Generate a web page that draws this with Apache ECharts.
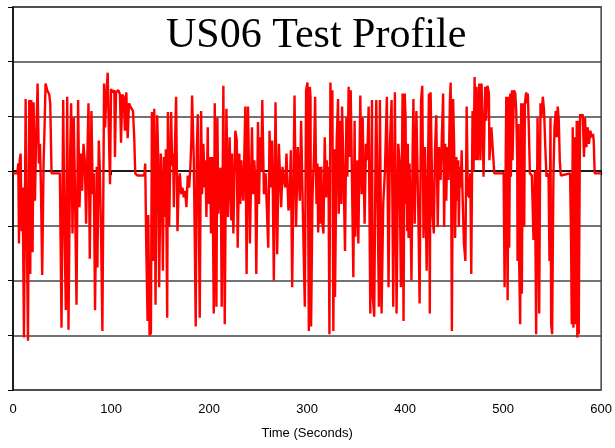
<!DOCTYPE html>
<html>
<head>
<meta charset="UTF-8">
<title>US06 Test Profile</title>
<script src="https://cdn.jsdelivr.net/npm/echarts@6/dist/echarts.min.js"></script>
</head>
<body style="margin:0">
<div id="main" style="width:615px;height:448px;"></div>
<script type="text/javascript">
// time (s) and value, split in ~100 s pieces
var t1 = [0,4.4,5.4,6.1,6.8, 7.8,8.8,9.8,11.2,12.9, 13.9,15.3,16.6,17.6,18.6, 20,21,22.4,23.4,25.1,
          26.4,27.5,28.5,29.8,31.2, 32.2,33.2,34.9,37,38, 39.3,47.8,49.5,51.2,52.5, 53.9,55.3,56.6,58.3,59.3,
          60.7,62,63.1,64.8,66.4, 67.8,69.5,70.5,71.9,73.2, 74.6,75.9,77,78.3,80, 81.4,82.4,83.7,85.4,86.1,
          87.5,88.5,89.8,91.2,92.9, 93.9,95.3];
var v1 = [-2,-2,7,-66,10, 16,-55,-15,-152,66, -40,-155,65,-94,65, -74,63,-27,20,80,
          7,25,-15,-95,8, 40,80,74,70,62, -2,-2,-143,65,-51, -127,68,-145,16,62,
          -57,49,-10,-122,65, -33,16,-18,25,10, -48,16,62,-80,55, -21,-2,-127,4,-88,
          28,4,-55,-146,80, 40,70];

var t2 = [96.6,98.3,99,100,101.7, 103.4,104,105.1,107.4,109.1, 110.2,111.5,112.9,114.2,115.6, 117,118.3,120.3,122.4,123.7,
          124.7,127.1,133.9,134.9,135.9, 137.3,138,139.3,140.7,141.7, 143,144.1,144.7,145.4,146.4, 147.1,148.1,149.1,150.8,152.2,
          152.9,153.9,154.9,155.9,157.3, 158,159.3,161.3,162.4,163.4, 164.1,165.1,166.4,167.8,169.1, 170.2,171.5,172.9,174.2,175.6,
          176.9,178.3,179.7,181,182, 182.7,184.4,185.4,186.4,187.5, 188.5,189.5,190.5,191.9,192.9, 194.2,195.6];
var v2 = [90,13,-12,75,72, 74,13,72,74,70, 26,70,68,37,72, 30,62,58,55,30,
          -2,-4,-4,7,-66, -137,-40,-150,-148,54, -82,57,-20,-122,10, 51,13,-106,16,-30,
          -91,13,-42,20,-134, 54,-51,54,5,16, -33,19,68,-55,-10, -2,-21,-15,-24,-18,
          -33,-4,-15,5,30, 69,13,-60,-142,19, 52,-30,-134,55,-21, 25,-15];

var t3 = [196.3,197.3,198.7,199.4,200.7, 201,202,203.4,204.8,205.8, 207.5,208.5,209.5,210.9,211.9, 212.9,214.6,216,217.7,219.4,
          221,222.7,223.4,224.8,226.8, 228.3,229.2,230.9,231.9,232.9, 233.9,235,237,238.3,239.7, 240.4,241.7,243.8,244.8,246.1,
          247.2,248.2,249.9,250.9,252.2, 253.3,254.3,256,257.7,260.4, 261.7,263.1,264.4,265.1,266.1, 267.8,269.5,271.2,273.6,274.9,
          276.3,277.7,279,281,282.1, 283.4,284.8,287.2,288.8,290.5, 292.6,293.9,295.6,297.7,299];
var v3 = [10,-42,40,-30,-2, 13,-57,13,-130,62, -124,49,-39,0,3, -124,78,-140,57,-42,
          31,-45,16,-57,37, 28,-70,16,-30,10, -15,-27,59,-94,59, 22,-66,40,-21,10,
          -8,-94,45,-30,31, 0,65,-21,-2,-70, 37,-15,28,-21,-100, 63,-76,25,-33,4,
          -8,-15,16,-36,-30, 19,-106,69,-51,22, -27,46,-33,-124,74];

var t4 = [300.4,301.8,302.8,303.5,304.1, 305.5,306.5,307.2,308.2,309.6, 310.6,311.3,312.6,313.3,314.6, 315.3,316.7,318,319.4,320.1,
          321.1,321.8,322.8,323.8,324.8, 325.8,326.8,327.9,328.5,330.2, 331.6,332.3,333.6,335,335.7, 337,338.7,340.1,341.1,342.4,
          343.5,344.5,345.5,347.2,348.5, 349.2,350.6,351.3,352.3,354.3, 355.7,356.7,358,358.7,360.1, 360.7,361.8,362.8,364.5,366.2,
          366.9,368.5,369.9,370.6,372.3, 373.3,374.3,376,377.7,379.4, 381.4,383.1,384.5,386.2,387.9, 389.6,391.3,393,394.3,395.7,
          397.4,398.4];
var v4 = [81,-146,77,68,-142, -24,0,19,68,-30, 7,-56,4,-48,4, -45,-57,31,-24,10,
          -21,4,-149,81,40, 74,-146,20,-115,28, 66,-39,46,-30,59, 10,-73,49,-5,77,
          13,74,13,-97,46, -60,-21,10,-66,69, -21,49,49,-48,25, 10,25,59,-130,65,
          -112,-133,22,65,65, -124,65,-130,-30,0, 68,-106,25,65,-124, 72,-130,25,10,-106,
          71,-137];

var t5 = [399.6,400.5,401,401.5,402.2, 402.8,403.5,404.5,405.2,406.5, 407.7,408.5,409.8,411.5,412.2, 413.5,414.8,416.3,417.5,418.8,
          420.3,422,424.3,425.2,426, 428.1,429.3,430.5,431.8,433.3, 434.5,436.2,437.5,438.8,439.8, 440.9,442,443,444.3,445.7,
          446.5,447.7,449,450,451, 452.3,453,454.2,454.8,455.7, 456.8,457.7,458.5,460,461.5, 462.8,464,465.5,466.5,467.5,
          468.8,469.8,470.9,472,472.9, 474.1,475.7,476.8,478,479.5, 480,481.7,482.6,484,485.5, 486,488,491];
var v5 = [71,48,-30,13,-55, 25,-61,7,-21,-100, 19,66,-48,55,22, -39,-121,65,78,-61,
          22,-91,71,-130,72, -42,-57,19,51,-51, 22,-8,-8,71,-51, 25,-27,22,-8,65,
          81,-146,66,25,-61, 13,-27,10,-51,4, -15,19,-18,-66,-82, 59,-21,-24,-2,-94,
          55,0,86,10,77, 10,80,10,80,22, -5,77,46,78,71, 10,40,-2];

var t6 = [495.4,500.5,501.5,503.2,504.6, 505.6,506.2,507.3,507.9,509, 509.6,511,512.4,513.4,514.4, 514.7,515.7,516.4,517.4,518.4,
          519.1,520.1,520.8,521.5,522.2, 523.5,524.6,525.2,526.2,527.3, 529.3,531,532.4,533.7,535.1, 535.7,536.8,538.1,539.1,540.5,
          541.8,542.9,544.2,546.3,547.3, 548.3,549,550,551.3,552.4, 553.7,554.7,555.7,556.8,557.8, 558.8,568.3,569.3,570,571,
          571.7,573,573.7,575.1,575.7, 576.4,577.1,578.5,579.8,581.2, 582.5,583.5,584.9,586.3,587.6, 589,590.3,591.7,592.4,593.4,
          600];
var v6 = [-2,-2,-106,68,-118, 68,-70,71,-5,74, 10,74,71,55,10, -82,43,-85,-140,62,
          -112,62,25,-51,62, 72,62,71,40,-2, -4,-63,0,-149,49, 10,-130,62,49,68,
          55,25,-5,-2,-82, 49,-140,-149,-5,40, 55,31,59,46,10, -4,-2,-63,-140,40,
          -143,31,-140,46,-152, 46,-149,52,49,52, 13,49,22,40,25, 37,31,34,28,-2,
          -2];

var xTicks = [0, 100, 200, 300, 400, 500, 600];
var yTicks = [-200, -150, -100, -50, 0, 50, 100, 150];

var data = [];
[[t1, v1], [t2, v2], [t3, v3], [t4, v4], [t5, v5], [t6, v6]].forEach(function (s) {
    if (s[0].length != s[1].length) console.log('length mismatch', s[0][0], s[0].length, s[1].length);
    var n = Math.min(s[0].length, s[1].length);
    for (var i = 0; i < n; i++) data.push([s[0][i], s[1][i]]);
});

var myChart = echarts.init(document.getElementById('main'));
myChart.setOption({
    animation: false,
    title: {
        text: 'US06 Test Profile',
        left: 161,
        top: 10,
        textStyle: {fontFamily: 'Liberation Serif', fontSize: 42, fontWeight: 'normal', color: '#000'}
    },
    grid: {left: 13, right: 11, top: 7, bottom: 58, show: true, borderColor: '#444', borderWidth: 1.5},
    xAxis: {
        type: 'value',
        min: xTicks[0],
        max: xTicks[xTicks.length - 1],
        interval: 100,
        name: 'Time (Seconds)',
        nameLocation: 'middle',
        nameGap: 37,
        nameTextStyle: {fontFamily: 'Liberation Sans', fontSize: 13, color: '#000'},
        axisLine: {lineStyle: {color: '#000', width: 1.5}},
        axisTick: {length: 4, lineStyle: {color: '#000'}},
        axisLabel: {margin: 13, fontFamily: 'Liberation Sans', fontSize: 13, color: '#000'},
        splitLine: {show: false}
    },
    yAxis: {
        type: 'value',
        min: yTicks[0],
        max: yTicks[yTicks.length - 1],
        interval: 50,
        axisLine: {show: true, lineStyle: {color: '#000', width: 1.5}},
        axisTick: {show: true, length: 5, lineStyle: {color: '#000'}},
        axisLabel: {show: false},
        splitLine: {lineStyle: {color: '#444', width: 1.5}}
    },
    series: [{
        type: 'line',
        data: data,
        showSymbol: false,
        lineStyle: {color: '#ff0000', width: 2.4}
    }]
});
</script>
</body>
</html>
